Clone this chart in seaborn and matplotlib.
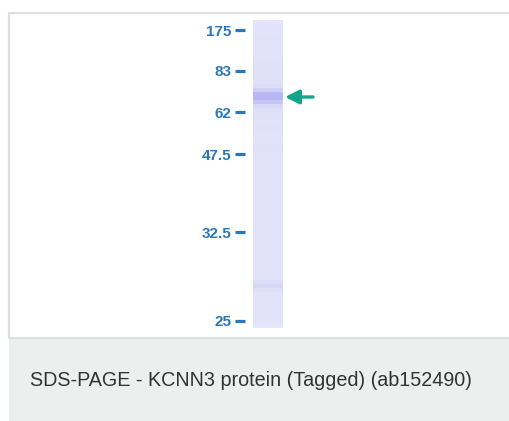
"""SDS-PAGE figure: KCNN3 protein (Tagged), single lane with ladder marks."""

import numpy as np
import seaborn as sns
from matplotlib import pyplot as plt
from matplotlib.colors import LinearSegmentedColormap
from matplotlib.patches import Rectangle

# ladder: molecular weight labels (kDa) and the gel row (px) where each runs
LADDER_LABELS = ["175", "83", "62", "47.5", "32.5", "25"]
LADDER_ROWS = [30, 71, 112, 154, 232, 321]

# lane stain intensity, one value per 4 px row from the top of the lane (y=20) down to y=328
LANE_TOP = 20
ROW_STEP = 4
LANE_INTENSITY = [
    0.26, 0.28, 0.29, 0.29, 0.30, 0.30, 0.30, 0.31, 0.31, 0.31,   # 20-60
    0.32, 0.32, 0.32, 0.32, 0.32, 0.33, 0.38, 0.56, 0.78, 0.80,   # 60-100
    0.66, 0.46, 0.35, 0.32, 0.32, 0.31, 0.32, 0.32, 0.31, 0.31,   # 100-140
    0.31, 0.32, 0.32, 0.31, 0.31, 0.31, 0.31, 0.30, 0.30, 0.31,   # 140-180
    0.31, 0.31, 0.30, 0.30, 0.30, 0.31, 0.31, 0.30, 0.30, 0.30,   # 180-220
    0.30, 0.31, 0.30, 0.30, 0.30, 0.30, 0.30, 0.30, 0.30, 0.30,   # 220-260
    0.30, 0.30, 0.30, 0.30, 0.31, 0.38, 0.50, 0.36, 0.31, 0.30,   # 260-300
    0.30, 0.30, 0.30, 0.29, 0.29, 0.28, 0.26,                     # 300-328
]
LANE_X = (253, 283)

# protein of interest band, marked by the arrow
TARGET_ROW = 97

CAPTION = "SDS-PAGE - KCNN3 protein (Tagged) (ab152490)"

W, H = 510, 421
LABEL_BLUE = "#2B78B8"
ARROW_TEAL = "#14A38B"
BORDER = "#DEDFDF"
CAPTION_BG = "#EDEEEE"

sns.set_theme(style="white")
plt.rcParams["font.family"] = ["Liberation Sans", "DejaVu Sans"]

fig = plt.figure(figsize=(W / 100, H / 100), dpi=100)
fig.patch.set_facecolor("white")

# page layer in pixel coordinates
bg = fig.add_axes([0, 0, 1, 1])
bg.set_xlim(0, W)
bg.set_ylim(H, 0)
bg.axis("off")
bg.add_patch(Rectangle((9.5, 12.5), W + 40, 325, facecolor="white",
                       edgecolor=BORDER, lw=1.6, clip_on=False))
bg.add_patch(Rectangle((9, 337.5), W + 40, 90, facecolor=CAPTION_BG,
                       edgecolor="none", clip_on=False))
bg.plot([9.5, W + 40], [337.5, 337.5], color=BORDER, lw=1.0, clip_on=False)
bg.text(30, 381, CAPTION, ha="left", va="center", fontsize=14.2, color="#333333")

# gel lane
n_rows = len(LANE_INTENSITY)
lane_bottom = LANE_TOP + n_rows * ROW_STEP
gel = fig.add_axes([
    LANE_X[0] / W,
    1 - lane_bottom / H,
    (LANE_X[1] - LANE_X[0]) / W,
    (lane_bottom - LANE_TOP) / H,
])
lane_cmap = LinearSegmentedColormap.from_list("stain", ["#F2F2FD", "#D6D6F7", "#A0A3EE"])
lane = np.array(LANE_INTENSITY).reshape(-1, 1)
sns.heatmap(lane, ax=gel, cmap=lane_cmap, vmin=0, vmax=1, cbar=False,
            xticklabels=False, yticklabels=False)

tick_pos = [(r - LANE_TOP) / ROW_STEP for r in LADDER_ROWS]
gel.set_yticks(tick_pos)
gel.set_yticklabels(LADDER_LABELS)
gel.spines["left"].set_position(("outward", 6))
gel.spines["left"].set_visible(False)
gel.tick_params(axis="y", left=True, length=7.5, width=2.3, color=LABEL_BLUE,
                labelcolor=LABEL_BLUE, direction="out", pad=2, labelrotation=0)
gel.tick_params(axis="x", bottom=False)
for lbl in gel.get_yticklabels():
    lbl.set_fontweight("bold")
    lbl.set_fontsize(11)

# arrow to the target band
bg.annotate("", xy=(285, TARGET_ROW), xytext=(313, TARGET_ROW),
            arrowprops=dict(arrowstyle="-|>,head_length=0.7,head_width=0.35",
                            lw=2.4, color=ARROW_TEAL, shrinkA=0, shrinkB=0))

fig.savefig("out.png", dpi=100)
